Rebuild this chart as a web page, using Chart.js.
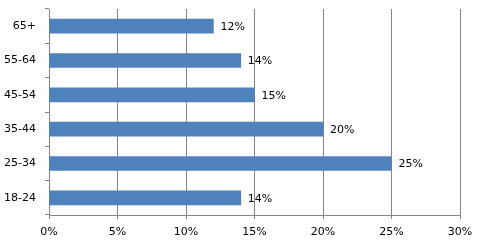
<!DOCTYPE html>
<html>
<head>
<meta charset="utf-8">
<script src="https://cdn.jsdelivr.net/npm/chart.js@4/dist/chart.umd.min.js"></script>
<style>
  html, body { margin: 0; padding: 0; background: #fff; }
  #wrap { width: 478px; height: 247px; }
</style>
</head>
<body>
<div id="wrap"><canvas id="ageChart"></canvas></div>
<script>
  // Age groups, top to bottom
  const ageGroups = ['65+', '55-64', '45-54', '35-44', '25-34', '18-24'];
  const shareValues = [12, 14, 15, 20, 25, 14];
  const xTicks = [0, 5, 10, 15, 20, 25, 30];

  const gridGray = '#868686';
  const fontFamily = 'DejaVu Sans, sans-serif';

  // draws the "12%" style labels right of each bar
  const valueLabels = {
    id: 'valueLabels',
    afterDatasetsDraw(chart) {
      const ctx = chart.ctx;
      const meta = chart.getDatasetMeta(0);
      ctx.save();
      ctx.font = '11px ' + fontFamily;
      ctx.fillStyle = '#000';
      ctx.textAlign = 'left';
      ctx.textBaseline = 'middle';
      meta.data.forEach((bar, i) => {
        ctx.fillText(shareValues[i] + '%', bar.x + 7, bar.y + 1);
      });
      ctx.restore();
    }
  };

  document.addEventListener('DOMContentLoaded', function() {
    const ctx = document.getElementById('ageChart').getContext('2d');
    new Chart(ctx, {
      type: 'bar',
      data: {
        labels: ageGroups,
        datasets: [{
          data: shareValues,
          backgroundColor: '#4F81BD',
          borderWidth: 0,
          barThickness: 14
        }]
      },
      options: {
        indexAxis: 'y',
        responsive: true,
        maintainAspectRatio: false,
        animation: false,
        layout: { padding: { top: 9, right: 18, left: 0, bottom: 0 } },
        plugins: {
          legend: { display: false },
          tooltip: { enabled: false }
        },
        scales: {
          x: {
            min: 0,
            max: 30,
            afterBuildTicks(axis) {
              axis.ticks = xTicks.map(v => ({ value: v }));
            },
            afterFit(axis) {
              axis.height = 32;
              axis.paddingLeft = 0;
              axis.paddingRight = 0;
            },
            grid: {
              color: gridGray,
              lineWidth: 1,
              drawOnChartArea: true,
              drawTicks: true,
              tickLength: 4
            },
            border: { color: gridGray, width: 1 },
            ticks: {
              color: '#000',
              padding: 7,
              font: { family: fontFamily, size: 11 },
              callback: v => v + '%'
            }
          },
          y: {
            afterFit(axis) {
              axis.width = 49;
              axis.paddingTop = 0;
              axis.paddingBottom = 0;
            },
            grid: {
              offset: true,
              color: gridGray,
              drawOnChartArea: false,
              drawTicks: true,
              tickLength: 4
            },
            border: { color: gridGray, width: 1 },
            ticks: {
              color: '#000',
              padding: 9,
              font: { family: fontFamily, size: 11 }
            }
          }
        }
      },
      plugins: [valueLabels]
    });
  });
</script>
</body>
</html>
